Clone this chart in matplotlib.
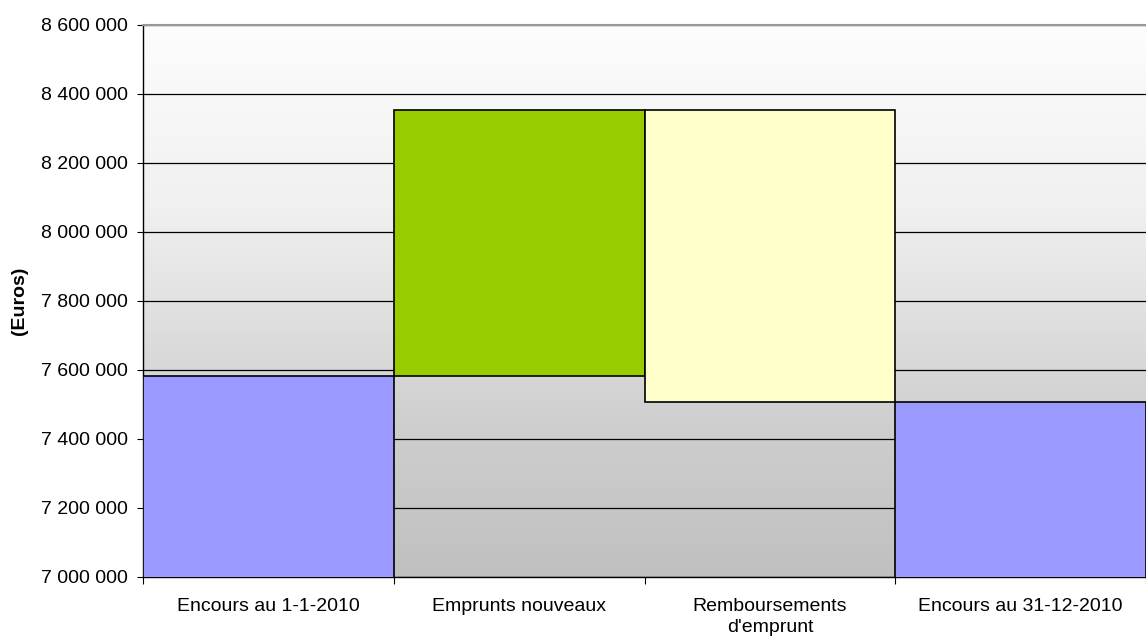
import numpy as np
import matplotlib.pyplot as plt
from matplotlib.ticker import FuncFormatter

plt.rcParams['font.family'] = ['Liberation Sans', 'DejaVu Sans']

# Data (euros)
categories = ["Encours au 1-1-2010", "Emprunts nouveaux",
              "Remboursements\nd'emprunt", "Encours au 31-12-2010"]
encours_debut = 7582600
emprunts = 771000
remboursements = 846400
encours_fin = encours_debut + emprunts - remboursements

bottoms = [0, encours_debut, encours_fin, 0]
heights = [encours_debut, emprunts, remboursements, encours_fin]
colors = ['#9999ff', '#99cc00', '#ffffcc', '#9999ff']

fig = plt.figure(figsize=(11.46, 6.39), dpi=100)
ax = fig.add_axes([143 / 1146, 1 - 577 / 639, 1 - 143 / 1146, 552 / 639])

ymin, ymax = 7000000, 8600000
x = np.arange(len(categories))

# gradient background, light at top, grey at bottom
t = np.linspace(0, 1, 256)
shade = np.interp(t, [0, 0.33, 0.55, 0.70, 1.0], [253, 240, 222, 208, 192]) / 255
grad = np.repeat(shade[:, None, None], 3, axis=2)
ax.imshow(grad, aspect='auto', origin='upper',
          extent=(-0.5, len(categories) - 0.5, ymin, ymax), zorder=0)

ax.bar(x, heights, bottom=bottoms, width=1.0, color=colors,
       edgecolor='black', linewidth=1.2, zorder=3)

ax.set_xlim(-0.5, len(categories) - 0.5)
ax.set_ylim(ymin, ymax)
ax.set_yticks(np.arange(ymin, ymax + 1, 200000))
ax.yaxis.set_major_formatter(FuncFormatter(lambda v, p: f"{int(v):,}".replace(",", " ")))
ax.grid(axis='y', color='black', linewidth=0.9, zorder=1)
ax.set_axisbelow(True)

# ticks at category boundaries, labels centered
ax.set_xticks(np.arange(-0.5, len(categories) - 0.4, 1.0))
ax.set_xticklabels([])
ax.set_xticks(x, minor=True)
ax.set_xticklabels(categories, minor=True, fontsize=14, linespacing=1.3)
ax.tick_params(axis='x', which='minor', length=0, pad=15)
ax.tick_params(axis='x', which='major', length=5, color='black', direction='out')
ax.tick_params(axis='y', length=4.5, pad=6.5, labelsize=14, direction='out')

ax.spines['top'].set_color('#999999')
ax.spines['top'].set_linewidth(1.5)
ax.spines['right'].set_visible(False)
ax.spines['left'].set_linewidth(1.0)
ax.spines['bottom'].set_linewidth(1.0)

ax.set_ylabel("(Euros)", fontsize=14, fontweight='bold')
ax.yaxis.set_label_coords(-0.115, 0.5)

fig.savefig("out.png", dpi=100)
